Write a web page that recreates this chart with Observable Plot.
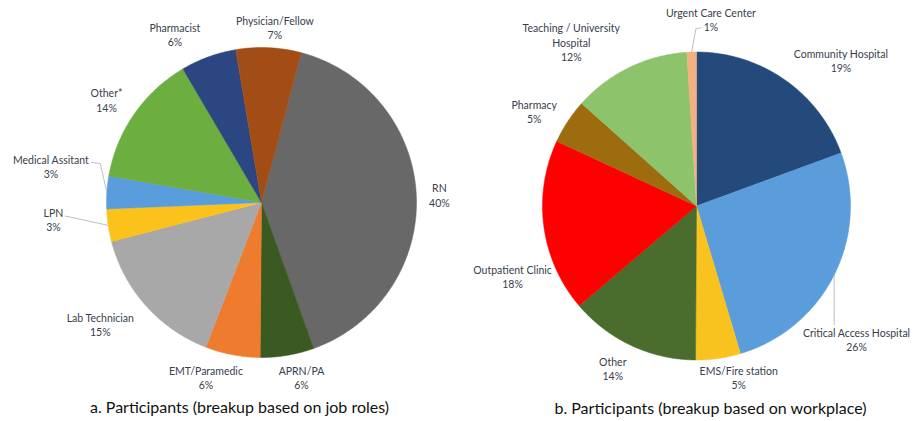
<!DOCTYPE html>
<html><head><meta charset="utf-8">
<script src="https://cdn.jsdelivr.net/npm/d3@7"></script>
<script src="https://cdn.jsdelivr.net/npm/@observablehq/plot@0.6"></script>
<style>body{margin:0;background:#fff}</style>
</head><body><div id="chart"></div>
<script>
// ---- data ----
const rolesA = ["RN","APRN/PA","EMT/Paramedic","Lab Technician","LPN","Medical Assitant","Other*","Pharmacist","Physician/Fellow"];
const sharesA = [40.4,5.6,5.7,15.1,3.4,3.4,13.8,5.8,6.8];
const placesB = ["Community Hospital","Critical Access Hospital","EMS/Fire station","Other","Outpatient Clinic","Pharmacy","Teaching / University Hospital","Urgent Care Center"];
const sharesB = [19.4,26.0,4.7,13.7,18.1,4.7,12.4,1.0];
const captions = ["a. Participants (breakup based on job roles)","b. Participants (breakup based on workplace)"];

// ---- styles / layout ----
const colorsA = ["#686868","#3a5a22","#ee7b2e","#a8a8a8","#fcc21c","#599ddd","#6cae40","#2c4682","#a34d16"];
const colorsB = ["#234a7a","#5b9ddb","#f8c21f","#4a6c2d","#ff0000","#9c6c0e","#8dc46b","#f3b083"];
const pieA = {cx: 261, cy: 202, r: 155, start: 14.9};
const pieB = {cx: 696, cy: 205.5, r: 154, start: 0};
const labelDist = 25;
const nudgeA = [[-2,0],[10,-2.5],[-22,-2],[-27,2],[-30,-10],[-31,-24],[-7,0],[-25,1],[5,5]];
const nudgeB = [[42,1.6],[0,53.4],[17,-5.7],[-8,0.6],[-6.6,46.4],[-12.7,3.8],[-47,-3],[20,-7.6]];
const leadersA = {"Medical Assitant": [[40.5,-4.5],[49.5,-3]], "LPN": [[11.5,-3],[17,-2]]};
const leadersB = {"Urgent Care Center": [[-10,8.3],[-15,9.3]], "Critical Access Hospital": [[-22.3,-15]]};
const wrap = {"Teaching / University Hospital": "Teaching / University\nHospital"};

const fmt = d3.format(".0f");
function build(names, shares, pie, tag, nudge, leaders) {
  const arcs = d3.pie().sort(null).value(d => d)
    .startAngle(pie.start * Math.PI / 180)
    .endAngle(pie.start * Math.PI / 180 + 2 * Math.PI)(shares);
  const total = d3.sum(shares);
  const pts = [], labels = [], lines = [];
  arcs.forEach((a, i) => {
    const key = tag + ":" + names[i];
    pts.push({key, x: pie.cx, y: pie.cy});
    const n = Math.max(2, Math.ceil((a.endAngle - a.startAngle) / (Math.PI / 360)));
    for (let k = 0; k <= n; k++) {
      const t = a.startAngle + (a.endAngle - a.startAngle) * k / n;
      pts.push({key, x: pie.cx + pie.r * Math.sin(t), y: pie.cy - pie.r * Math.cos(t)});
    }
    pts.push({key, x: pie.cx, y: pie.cy});
    const m = (a.startAngle + a.endAngle) / 2;
    const lx = pie.cx + (pie.r + labelDist) * Math.sin(m) + nudge[i][0];
    const ly = pie.cy - (pie.r + labelDist) * Math.cos(m) + nudge[i][1];
    labels.push({x: lx, y: ly, text: (wrap[names[i]] || names[i]) + "\n" + fmt(shares[i] / total * 100) + "%"});
    if (leaders[names[i]]) {
      leaders[names[i]].forEach(([dx, dy]) => lines.push({key, x: lx + dx, y: ly + dy}));
      lines.push({key, x: pie.cx + pie.r * Math.sin(m), y: pie.cy - pie.r * Math.cos(m)});
    }
  });
  return {pts, labels, lines};
}
const A = build(rolesA, sharesA, pieA, "A", nudgeA, leadersA);
const B = build(placesB, sharesB, pieB, "B", nudgeB, leadersB);
const keys = rolesA.map(d => "A:" + d).concat(placesB.map(d => "B:" + d));
const capData = [{x: 239, y: 407, text: captions[0]}, {x: 710, y: 408, text: captions[1]}];

const chart = Plot.plot({
  width: 920, height: 421, margin: 0,
  x: {domain: [0, 920], axis: null},
  y: {domain: [0, 421], range: [0, 421], axis: null},
  color: {type: "ordinal", domain: keys, range: colorsA.concat(colorsB)},
  style: {fontFamily: "Lato, sans-serif", background: "white"},
  marks: [
    Plot.line(A.pts.concat(B.pts), {x: "x", y: "y", z: "key", fill: "key", stroke: "key", strokeWidth: 0.5, curve: "linear"}),
    Plot.line(A.lines.concat(B.lines), {x: "x", y: "y", z: "key", stroke: "#a9b0b8", strokeWidth: 0.8, curve: "linear"}),
    Plot.text(A.labels.concat(B.labels), {x: "x", y: "y", text: "text", fontSize: 10.5, lineHeight: 1.35, fill: "#37404c"}),
    Plot.text(capData, {x: "x", y: "y", text: "text", fontSize: 16, fill: "#111"})
  ]
});
document.getElementById("chart").appendChild(chart);
</script>
</body></html>
